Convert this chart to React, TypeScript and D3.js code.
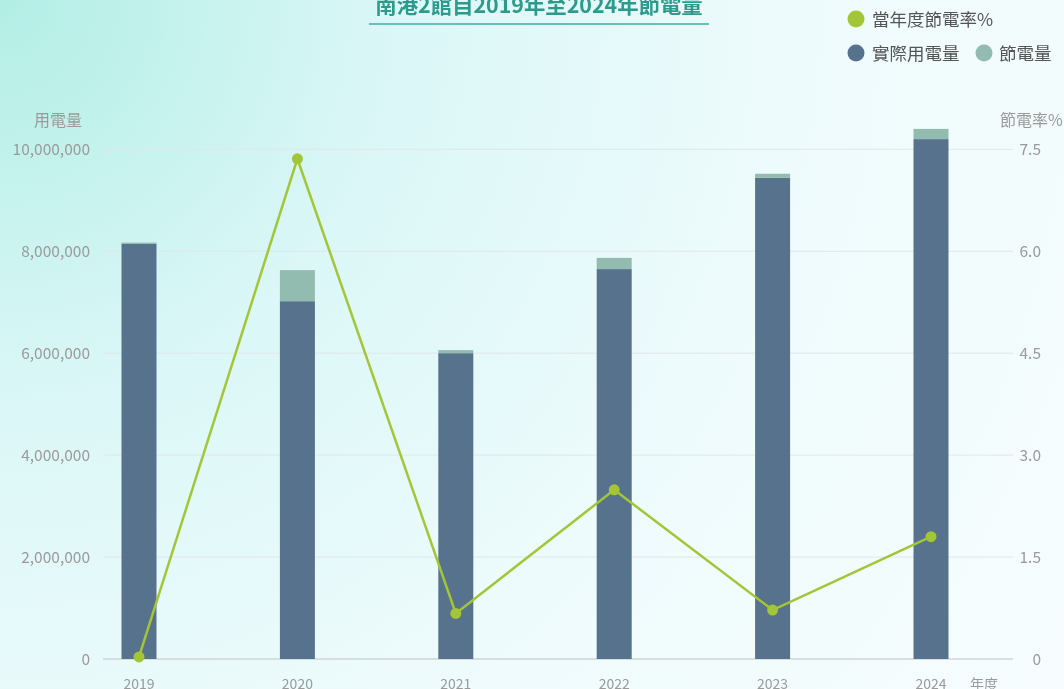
import React from 'react'
import * as d3 from 'd3'

const years = ['2019', '2020', '2021', '2022', '2023', '2024']
const actualUse = [8150000, 7020000, 6000000, 7650000, 9440000, 10200000]
const saved = [20000, 610000, 60000, 220000, 80000, 200000]
const savingRate = [0.03, 7.36, 0.67, 2.49, 0.72, 1.8]
const leftTicks = [0, 2000000, 4000000, 6000000, 8000000, 10000000]
const rightTicks = [0, 1.5, 3, 4.5, 6, 7.5]

const W = 1064
const H = 689
const FONT = '"Noto Sans CJK TC", "Noto Sans", sans-serif'

export default function App() {
    const x = d3.scalePoint<string>().domain(years).range([139, 931])
    const yL = d3.scaleLinear().domain([0, 10000000]).range([659, 149.3])
    const yR = d3.scaleLinear().domain([0, 7.5]).range([659, 149.3])
    const barW = 35
    const fmt = d3.format(',')

    const line = d3.line<number>()
        .x((_, i) => x(years[i]) as number)
        .y(d => yR(d))

    return (
        <div style={{ position: 'fixed', left: 0, top: 0, width: W, height: H }}>
            <svg width={W} height={H} style={{ display: 'block', fontFamily: FONT }}>
                <defs>
                    <radialGradient id="bg" cx="0" cy="0" r="1.25" gradientUnits="objectBoundingBox"
                        gradientTransform="scale(1, 1.55)">
                        <stop offset="0" stopColor="#b2eee5" />
                        <stop offset="0.3" stopColor="#dbf7f7" />
                        <stop offset="0.6" stopColor="#eefbfc" />
                        <stop offset="1" stopColor="#f8fdfe" />
                    </radialGradient>
                </defs>
                <rect width={W} height={H} fill="url(#bg)" />

                {/* title, cut at the top */}
                <text x={539} y={13} textAnchor="middle" fontSize={21.4} fontWeight="bold" fill="#2e9a8c">
                    南港2館自2019年至2024年節電量
                </text>
                <line x1={369} x2={709} y1={24} y2={24} stroke="#3fae9f" strokeWidth={1.5} />

                {/* legend */}
                <circle cx={856} cy={19} r={8.5} fill="#a3c637" />
                <text x={872} y={25.5} fontSize={17.5} fill="#555">當年度節電率%</text>
                <circle cx={856} cy={53} r={8.5} fill="#56728c" />
                <text x={872} y={59.5} fontSize={17.5} fill="#555">實際用電量</text>
                <circle cx={984} cy={53} r={8.5} fill="#93bcb1" />
                <text x={999} y={59.5} fontSize={17.5} fill="#555">節電量</text>

                {/* grid */}
                {leftTicks.map(t => (
                    <line key={t} x1={103} x2={1013} y1={yL(t)} y2={yL(t)}
                        stroke={t === 0 ? '#cfd5d8' : '#e0e6e8'} strokeWidth={t === 0 ? 1.5 : 1} />
                ))}

                {/* axis labels */}
                <text x={58} y={126} textAnchor="middle" fontSize={16} fill="#9a9a9a">用電量</text>
                <text x={1000} y={126} fontSize={16} fill="#9a9a9a">節電率%</text>
                {leftTicks.map(t => (
                    <text key={t} x={90} y={yL(t) + 5.5} textAnchor="end" fontSize={15.5} fill="#9a9a9a">{fmt(t)}</text>
                ))}
                {rightTicks.map(t => (
                    <text key={t} x={1041} y={yR(t) + 5.5} textAnchor="end" fontSize={15.5} fill="#9a9a9a">{t === 0 ? '0' : t.toFixed(1)}</text>
                ))}
                {years.map(yr => (
                    <text key={yr} x={x(yr)} y={689} textAnchor="middle" fontSize={14} fill="#9a9a9a">{yr}</text>
                ))}
                <text x={984} y={689} textAnchor="middle" fontSize={14} fill="#9a9a9a">年度</text>

                {/* bars */}
                {years.map((yr, i) => {
                    const cx = x(yr) as number
                    return (
                        <g key={yr}>
                            <rect x={cx - barW / 2} width={barW} y={yL(actualUse[i])}
                                height={yL(0) - yL(actualUse[i])} fill="#56728c" />
                            <rect x={cx - barW / 2} width={barW} y={yL(actualUse[i] + saved[i])}
                                height={yL(actualUse[i]) - yL(actualUse[i] + saved[i])} fill="#93bcb1" />
                        </g>
                    )
                })}

                {/* saving rate line */}
                <path d={line(savingRate) || ''} fill="none" stroke="#a3c637" strokeWidth={2.5} />
                {savingRate.map((v, i) => (
                    <circle key={i} cx={x(years[i])} cy={yR(v)} r={5.5} fill="#a3c637" />
                ))}
            </svg>
        </div>
    )
}
